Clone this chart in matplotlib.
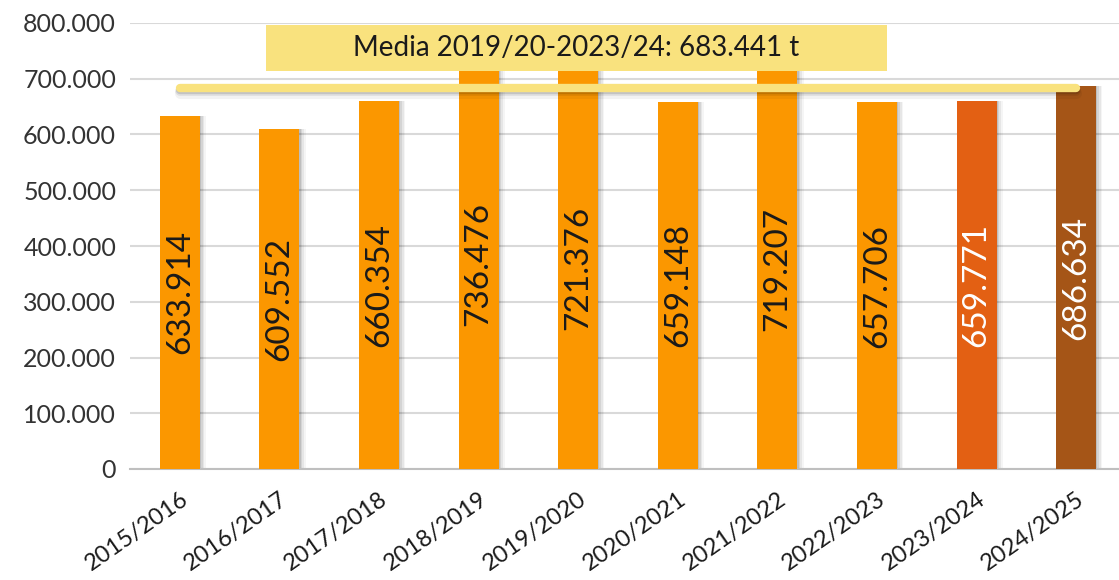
import matplotlib.pyplot as plt
from matplotlib.patches import Rectangle
import numpy as np

plt.rcParams['font.family'] = ['Lato', 'DejaVu Sans']

campaigns = ['2015/2016', '2016/2017', '2017/2018', '2018/2019', '2019/2020',
             '2020/2021', '2021/2022', '2022/2023', '2023/2024', '2024/2025']
tonnes = [633914, 609552, 660354, 736476, 721376,
          659148, 719207, 657706, 659771, 686634]
bar_colors = ['#FB9700'] * 8 + ['#E36013', '#A55517']
label_colors = ['#1a1a1a'] * 8 + ['white', 'white']
media = 683441
media_text = 'Media 2019/20-2023/24: 683.441 t'
yticks = [0, 100000, 200000, 300000, 400000, 500000, 600000, 700000, 800000]


def fmt(v):
    return f'{v:,.0f}'.replace(',', '.')


W, H = 1119, 580
fig = plt.figure(figsize=(W / 100, H / 100), dpi=100)
ax = fig.add_axes([130 / W, 1 - 469 / H, (1126 - 130) / W, 446 / H])

x = np.arange(len(campaigns))

# soft shadows behind bars
for k, a in enumerate([0.10, 0.08, 0.06, 0.04]):
    off = 0.012 * (k + 1)
    ax.bar(x + off, tonnes, width=0.4 + 0.01 * k, color='black', alpha=a,
           zorder=2, linewidth=0)
ax.bar(x, tonnes, width=0.4, color=bar_colors, zorder=3, linewidth=0)

for xi, v, c in zip(x, tonnes, label_colors):
    ax.text(xi, v / 2, fmt(v), rotation=90, ha='center', va='center',
            fontsize=24, color=c, zorder=4)

# average line with shadow
for k, a in enumerate([0.12, 0.08, 0.05]):
    ax.plot([x[0], x[-1]], [media - 3000 * (k + 1)] * 2, color='black',
            alpha=a, lw=6 + k, solid_capstyle='round', zorder=5)
ax.plot([x[0], x[-1]], [media, media], color='#F9E27E', lw=6,
        solid_capstyle='round', zorder=6)

# label box
ax.add_patch(Rectangle((0.863, 714000), 7.098 - 0.863, 796000 - 714000,
                       facecolor='#F9E27E', edgecolor='none', zorder=7))
ax.text((0.863 + 7.098) / 2, 755000, media_text, ha='center', va='center',
        fontsize=20, color='#1a1a1a', zorder=8)

ax.set_xlim(-0.5, 9.5)
ax.set_ylim(0, 800000)
ax.set_yticks(yticks)
ax.set_yticklabels([fmt(v) for v in yticks], fontsize=18, color='#333333')
ax.set_xticks(x)
ax.set_xticklabels(campaigns, rotation=35, ha='right', rotation_mode='anchor',
                   fontsize=17, color='#1a1a1a')
ax.tick_params(length=0, pad=10)
ax.tick_params(axis='x', pad=14)
ax.grid(axis='y', color='#D9D9D9', lw=1.5, zorder=0)
ax.set_axisbelow(True)
for s in ['top', 'right', 'left']:
    ax.spines[s].set_visible(False)
ax.spines['bottom'].set_color('#BFBFBF')
ax.spines['bottom'].set_linewidth(1.5)

fig.savefig('out.png', dpi=100)
